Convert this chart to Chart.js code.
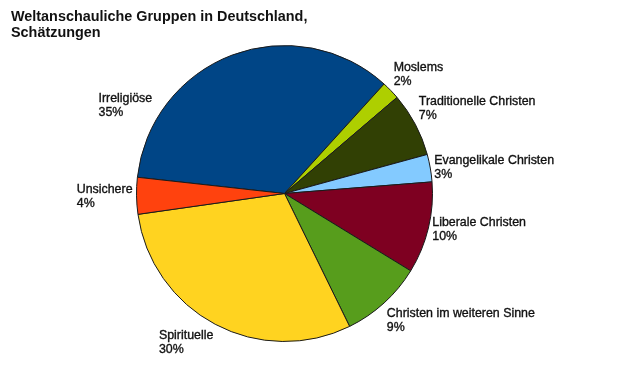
<!DOCTYPE html>
<html>
<head>
<meta charset="utf-8">
<script src="https://cdn.jsdelivr.net/npm/chart.js@4"></script>
<style>
  html, body { margin: 0; padding: 0; background: #ffffff; }
  #wrap { width: 640px; height: 376px; position: relative; }
</style>
</head>
<body>
<div id="wrap"><canvas id="pieChart" width="640" height="376"></canvas></div>
<script>
// Daten (im Uhrzeigersinn, beginnend mit Irreligiöse)
const groups = ['Irreligiöse', 'Moslems', 'Traditionelle Christen', 'Evangelikale Christen',
                'Liberale Christen', 'Christen im weiteren Sinne', 'Spirituelle', 'Unsichere'];
const shares = [35, 2, 7, 3, 10, 9, 30, 4];
const shareLabels = ['35%', '2%', '7%', '3%', '10%', '9%', '30%', '4%'];
const sliceColors = ['#004586', '#aecf00', '#314004', '#83caff', '#7e0021', '#579d1c', '#ffd320', '#ff420e'];

const titleLines = ['Weltanschauliche Gruppen in Deutschland,', 'Schätzungen'];

// Titel oben links
const titlePlugin = {
    id: 'titleText',
    afterDraw(chart) {
        const ctx = chart.ctx;
        ctx.save();
        ctx.fillStyle = '#111';
        ctx.font = 'bold 14.4px "Liberation Sans", Arial, sans-serif';
        ctx.textBaseline = 'alphabetic';
        titleLines.forEach((t, i) => ctx.fillText(t, 11, 21 + i * 16));
        ctx.restore();
    }
};

// Beschriftungen außerhalb der Segmente
const outsideLabels = {
    id: 'outsideLabels',
    afterDatasetsDraw(chart, args, opts) {
        const ctx = chart.ctx;
        const meta = chart.getDatasetMeta(0);
        ctx.save();
        ctx.fillStyle = '#111';
        ctx.strokeStyle = '#111';
        ctx.lineWidth = 0.35;
        ctx.font = '12.4px "Liberation Sans", Arial, sans-serif';
        ctx.textBaseline = 'alphabetic';
        meta.data.forEach((arc, i) => {
            const p = arc.getProps(['x', 'y', 'startAngle', 'endAngle', 'outerRadius'], true);
            let mid = (p.startAngle + p.endAngle) / 2;
            if (opts.angleOverride[i] !== undefined) mid = opts.angleOverride[i] * Math.PI / 180;
            const r = p.outerRadius + opts.gap;
            const ax = p.x + Math.cos(mid) * r;
            const ay = p.y + Math.sin(mid) * r;
            const lines = [groups[i], shareLabels[i]];
            const w = Math.max(...lines.map(l => ctx.measureText(l).width));
            const h = 28;
            const c = Math.cos(mid), s = Math.sin(mid);
            let left = c > 0.2 ? ax : (c < -0.2 ? ax - w : ax - w / 2);
            let top = s > 0.35 ? ay : (s < -0.35 ? ay - h : ay - h / 2);
            lines.forEach((l, k) => {
                ctx.fillText(l, left, top + 11 + k * 14);
                ctx.strokeText(l, left, top + 11 + k * 14);
            });
        });
        ctx.restore();
    }
};

const ctx = document.getElementById('pieChart').getContext('2d');
new Chart(ctx, {
    type: 'pie',
    data: {
        labels: groups,
        datasets: [{
            data: shares,
            backgroundColor: sliceColors,
            borderColor: '#1a1a1a',
            borderWidth: 1,
            hoverOffset: 0
        }]
    },
    options: {
        responsive: false,
        animation: false,
        rotation: -83.7,
        layout: { padding: { left: 136, right: 207, top: 45, bottom: 34 } },
        plugins: {
            legend: { display: false },
            tooltip: { enabled: false },
            title: { display: false },
            outsideLabels: { gap: 4, angleOverride: { 0: 209.5 } }
        }
    },
    plugins: [titlePlugin, outsideLabels]
});
</script>
</body>
</html>
